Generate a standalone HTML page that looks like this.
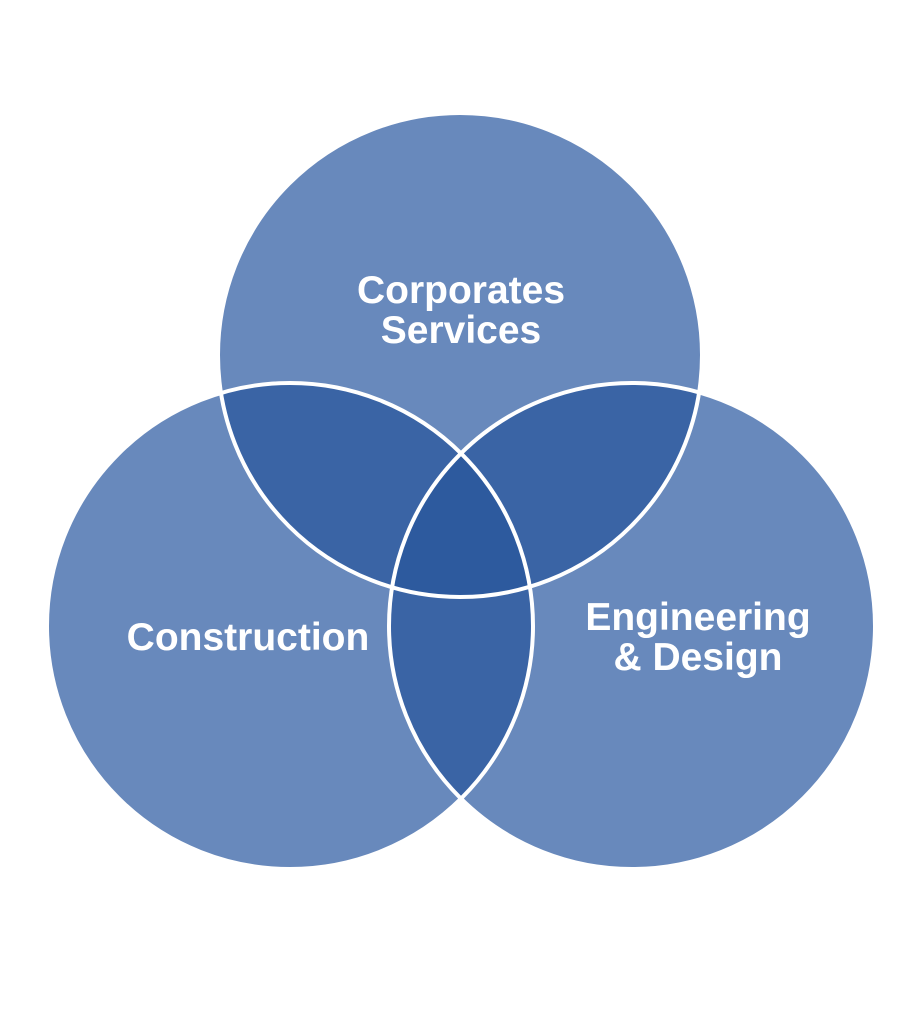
<!DOCTYPE html>
<html><head><meta charset="utf-8"><style>
html,body{margin:0;padding:0;background:#fff;}
svg{display:block}
text{font-family:"Liberation Sans",sans-serif;font-weight:bold;fill:#fff;font-size:39px;text-anchor:middle}
</style></head><body>
<svg width="922" height="1024" viewBox="0 0 922 1024">
<defs>
<clipPath id="cT"><circle cx="460" cy="355" r="242"/></clipPath>
<clipPath id="cL"><circle cx="290" cy="626" r="243"/></clipPath>
<clipPath id="cR"><circle cx="632" cy="626" r="243"/></clipPath>
</defs>
<circle cx="460" cy="355" r="242" fill="#6889bc"/>
<circle cx="290" cy="626" r="243" fill="#6889bc"/>
<circle cx="632" cy="626" r="243" fill="#6889bc"/>
<circle cx="290" cy="626" r="243" fill="#3a64a5" clip-path="url(#cT)"/>
<circle cx="632" cy="626" r="243" fill="#3a64a5" clip-path="url(#cT)"/>
<circle cx="632" cy="626" r="243" fill="#3a64a5" clip-path="url(#cL)"/>
<g clip-path="url(#cT)"><circle cx="632" cy="626" r="243" fill="#2d5a9e" clip-path="url(#cL)"/></g>
<g fill="none" stroke="#fff" stroke-width="4">
<circle cx="460" cy="355" r="242"/>
<circle cx="290" cy="626" r="243"/>
<circle cx="632" cy="626" r="243"/>
</g>
<text x="461" y="303">Corporates</text>
<text x="461" y="343">Services</text>
<text x="248" y="650">Construction</text>
<text x="698" y="630">Engineering</text>
<text x="698" y="670">&amp; Design</text>
</svg>
</body></html>
